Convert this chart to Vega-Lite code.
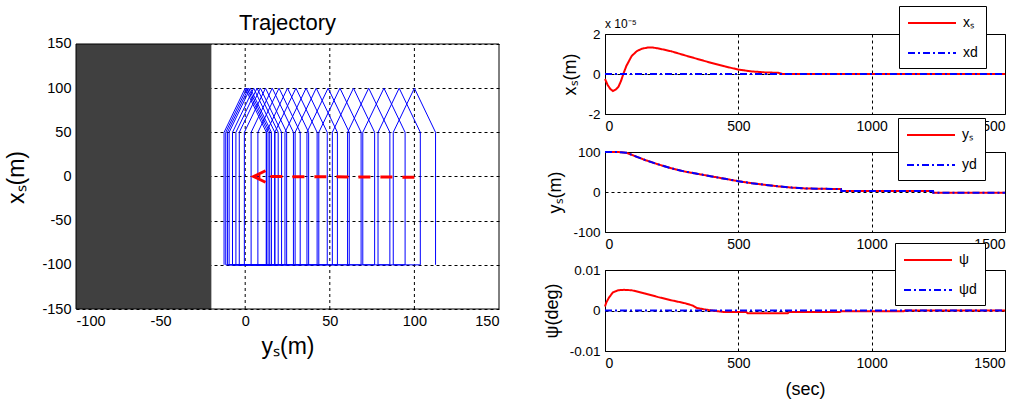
{
  "$schema": "https://vega.github.io/schema/vega-lite/v6.json",
  "background": "white",
  "padding": 5,
  "config": {
    "font": "Liberation Sans",
    "view": {"stroke": "black", "strokeWidth": 1},
    "axis": {
      "domain": false, "ticks": false, "grid": true,
      "gridColor": "black", "gridDash": [3, 3], "gridOpacity": 1, "gridWidth": 1,
      "labelColor": "black", "titleColor": "black", "titleFontWeight": "normal",
      "labelFont": "Liberation Sans", "titleFont": "Liberation Sans", "labelPadding": 5,
      "labelExpr": "toString(datum.value)"
    },
    "title": {"fontWeight": "normal", "color": "black", "font": "Liberation Sans"},
    "legend": {
      "orient": "none", "strokeColor": "black", "fillColor": "white", "padding": 8,
      "symbolType": "M-3,0H3", "symbolSize": 256, "symbolStrokeWidth": 2, "symbolOffset": 16,
      "labelFontSize": 14, "labelFont": "Liberation Sans", "labelColor": "black",
      "rowPadding": 14, "labelOffset": 22, "title": null
    }
  },
  "datasets": {
    "wall": [{"ys": -100, "ys2": -20, "xs": -150, "xs2": 150}],
    "vgrid": [{"ys": -50, "xs": -150, "xs2": 150}, {"ys": 0, "xs": -150, "xs2": 150}, {"ys": 50, "xs": -150, "xs2": 150}, {"ys": 100, "xs": -150, "xs2": 150}],
    "vframe": [{"ys": -100, "xs": -150, "xs2": 150}, {"ys": 150, "xs": -150, "xs2": 150}],
    "hframe": [{"xs": -150, "ys": -100, "ys2": 150}, {"xs": 150, "ys": -100, "ys2": 150}],
    "traj": [
      {"o":1,"ys":112.5,"xs":-100},{"o":2,"ys":112.5,"xs":50},{"o":3,"ys":100,"xs":100},{"o":4,"ys":87.5,"xs":50},{"o":5,"ys":87.5,"xs":-100},
      {"o":6,"ys":103.5,"xs":-100},{"o":7,"ys":103.5,"xs":50},{"o":8,"ys":91,"xs":100},{"o":9,"ys":78.5,"xs":50},{"o":10,"ys":78.5,"xs":-100},
      {"o":11,"ys":94.5,"xs":-100},{"o":12,"ys":94.5,"xs":50},{"o":13,"ys":82,"xs":100},{"o":14,"ys":69.5,"xs":50},{"o":15,"ys":69.5,"xs":-100},
      {"o":16,"ys":85.5,"xs":-100},{"o":17,"ys":85.5,"xs":50},{"o":18,"ys":73,"xs":100},{"o":19,"ys":60.5,"xs":50},{"o":20,"ys":60.5,"xs":-100},
      {"o":21,"ys":76.5,"xs":-100},{"o":22,"ys":76.5,"xs":50},{"o":23,"ys":64,"xs":100},{"o":24,"ys":51.5,"xs":50},{"o":25,"ys":51.5,"xs":-100},
      {"o":26,"ys":68.5,"xs":-100},{"o":27,"ys":68.5,"xs":50},{"o":28,"ys":56,"xs":100},{"o":29,"ys":43.5,"xs":50},{"o":30,"ys":43.5,"xs":-100},
      {"o":31,"ys":61.5,"xs":-100},{"o":32,"ys":61.5,"xs":50},{"o":33,"ys":49,"xs":100},{"o":34,"ys":36.5,"xs":50},{"o":35,"ys":36.5,"xs":-100},
      {"o":36,"ys":54.5,"xs":-100},{"o":37,"ys":54.5,"xs":50},{"o":38,"ys":42,"xs":100},{"o":39,"ys":29.5,"xs":50},{"o":40,"ys":29.5,"xs":-100},
      {"o":41,"ys":48.5,"xs":-100},{"o":42,"ys":48.5,"xs":50},{"o":43,"ys":36,"xs":100},{"o":44,"ys":23.5,"xs":50},{"o":45,"ys":23.5,"xs":-100},
      {"o":46,"ys":42.5,"xs":-100},{"o":47,"ys":42.5,"xs":50},{"o":48,"ys":30,"xs":100},{"o":49,"ys":17.5,"xs":50},{"o":50,"ys":17.5,"xs":-100},
      {"o":51,"ys":37.5,"xs":-100},{"o":52,"ys":37.5,"xs":50},{"o":53,"ys":25,"xs":100},{"o":54,"ys":12.5,"xs":50},{"o":55,"ys":12.5,"xs":-100},
      {"o":56,"ys":32.5,"xs":-100},{"o":57,"ys":32.5,"xs":50},{"o":58,"ys":20,"xs":100},{"o":59,"ys":7.5,"xs":50},{"o":60,"ys":7.5,"xs":-100},
      {"o":61,"ys":28.5,"xs":-100},{"o":62,"ys":28.5,"xs":50},{"o":63,"ys":16,"xs":100},{"o":64,"ys":3.5,"xs":50},{"o":65,"ys":3.5,"xs":-100},
      {"o":66,"ys":24.5,"xs":-100},{"o":67,"ys":24.5,"xs":50},{"o":68,"ys":12,"xs":100},{"o":69,"ys":-0.5,"xs":50},{"o":70,"ys":-0.5,"xs":-100},
      {"o":71,"ys":21.5,"xs":-100},{"o":72,"ys":21.5,"xs":50},{"o":73,"ys":9,"xs":100},{"o":74,"ys":-3.5,"xs":50},{"o":75,"ys":-3.5,"xs":-100},
      {"o":76,"ys":19.5,"xs":-100},{"o":77,"ys":19.5,"xs":50},{"o":78,"ys":7,"xs":100},{"o":79,"ys":-5.5,"xs":50},{"o":80,"ys":-5.5,"xs":-100},
      {"o":81,"ys":17.5,"xs":-100},{"o":82,"ys":17.5,"xs":50},{"o":83,"ys":5,"xs":100},{"o":84,"ys":-7.5,"xs":50},{"o":85,"ys":-7.5,"xs":-100},
      {"o":86,"ys":15.5,"xs":-100},{"o":87,"ys":15.5,"xs":50},{"o":88,"ys":3,"xs":100},{"o":89,"ys":-9.5,"xs":50},{"o":90,"ys":-9.5,"xs":-100},
      {"o":91,"ys":14.5,"xs":-100},{"o":92,"ys":14.5,"xs":50},{"o":93,"ys":2,"xs":100},{"o":94,"ys":-10.5,"xs":50},{"o":95,"ys":-10.5,"xs":-100},
      {"o":96,"ys":13.5,"xs":-100},{"o":97,"ys":13.5,"xs":50},{"o":98,"ys":1,"xs":100},{"o":99,"ys":-11.5,"xs":50},{"o":100,"ys":-11.5,"xs":-100},
      {"o":101,"ys":12.5,"xs":-100},{"o":102,"ys":12.5,"xs":50},{"o":103,"ys":0,"xs":100},{"o":104,"ys":-12.5,"xs":50},{"o":105,"ys":-12.5,"xs":-100}
    ],
    "shaft": [{"o": 1, "ys": 100, "xs": -0.8}, {"o": 2, "ys": 8, "xs": 0}],
    "head": [{"o": 1, "ys": 12, "xs": 6.5}, {"o": 2, "ys": 5, "xs": 0}, {"o": 3, "ys": 12, "xs": -6.5}],
    "p1": [
      {"t":0,"v":-0.25,"s":"xₛ"},{"t":10,"v":-0.55,"s":"xₛ"},{"t":20,"v":-0.75,"s":"xₛ"},{"t":30,"v":-0.85,"s":"xₛ"},
      {"t":40,"v":-0.78,"s":"xₛ"},{"t":50,"v":-0.65,"s":"xₛ"},{"t":60,"v":-0.35,"s":"xₛ"},{"t":70,"v":0.05,"s":"xₛ"},
      {"t":80,"v":0.4,"s":"xₛ"},{"t":100,"v":0.9,"s":"xₛ"},{"t":120,"v":1.15,"s":"xₛ"},{"t":140,"v":1.27,"s":"xₛ"},
      {"t":160,"v":1.32,"s":"xₛ"},{"t":180,"v":1.32,"s":"xₛ"},{"t":200,"v":1.28,"s":"xₛ"},{"t":250,"v":1.13,"s":"xₛ"},
      {"t":300,"v":0.93,"s":"xₛ"},{"t":350,"v":0.74,"s":"xₛ"},{"t":400,"v":0.55,"s":"xₛ"},{"t":450,"v":0.38,"s":"xₛ"},
      {"t":500,"v":0.22,"s":"xₛ"},{"t":550,"v":0.13,"s":"xₛ"},{"t":600,"v":0.08,"s":"xₛ"},{"t":650,"v":0.06,"s":"xₛ"},
      {"t":665,"v":0.0,"s":"xₛ"},{"t":1500,"v":0.0,"s":"xₛ"},
      {"t":0,"v":0,"s":"xd"},{"t":1500,"v":0,"s":"xd"}
    ],
    "p2": [
      {"t":0,"v":100,"s":"yₛ"},{"t":50,"v":100,"s":"yₛ"},{"t":80,"v":98,"s":"yₛ"},{"t":100,"v":93,"s":"yₛ"},
      {"t":150,"v":80,"s":"yₛ"},{"t":200,"v":69,"s":"yₛ"},{"t":250,"v":59,"s":"yₛ"},{"t":300,"v":51,"s":"yₛ"},
      {"t":350,"v":45,"s":"yₛ"},{"t":400,"v":39,"s":"yₛ"},{"t":450,"v":33,"s":"yₛ"},{"t":500,"v":27,"s":"yₛ"},
      {"t":550,"v":22,"s":"yₛ"},{"t":600,"v":18,"s":"yₛ"},{"t":650,"v":14,"s":"yₛ"},{"t":700,"v":11,"s":"yₛ"},
      {"t":750,"v":9,"s":"yₛ"},{"t":800,"v":8,"s":"yₛ"},{"t":885,"v":7.5,"s":"yₛ"},{"t":886,"v":2.5,"s":"yₛ"},
      {"t":1230,"v":2.5,"s":"yₛ"},{"t":1231,"v":-1.7,"s":"yₛ"},{"t":1500,"v":-1.7,"s":"yₛ"},
      {"t":0,"v":100,"s":"yd"},{"t":50,"v":100,"s":"yd"},{"t":80,"v":98,"s":"yd"},{"t":100,"v":93,"s":"yd"},
      {"t":150,"v":80,"s":"yd"},{"t":200,"v":69,"s":"yd"},{"t":250,"v":59,"s":"yd"},{"t":300,"v":51,"s":"yd"},
      {"t":350,"v":45,"s":"yd"},{"t":400,"v":39,"s":"yd"},{"t":450,"v":33,"s":"yd"},{"t":500,"v":27,"s":"yd"},
      {"t":550,"v":22,"s":"yd"},{"t":600,"v":18,"s":"yd"},{"t":650,"v":14,"s":"yd"},{"t":700,"v":11,"s":"yd"},
      {"t":750,"v":9,"s":"yd"},{"t":800,"v":8,"s":"yd"},{"t":885,"v":7.5,"s":"yd"},{"t":886,"v":2.5,"s":"yd"},
      {"t":1230,"v":2.5,"s":"yd"},{"t":1231,"v":-1.7,"s":"yd"},{"t":1500,"v":-1.7,"s":"yd"}
    ],
    "p3": [
      {"t":0,"v":0.001,"s":"ψ"},{"t":5,"v":0.002,"s":"ψ"},{"t":15,"v":0.0032,"s":"ψ"},{"t":30,"v":0.0045,"s":"ψ"},
      {"t":50,"v":0.005,"s":"ψ"},{"t":70,"v":0.0051,"s":"ψ"},{"t":100,"v":0.005,"s":"ψ"},{"t":150,"v":0.0042,"s":"ψ"},
      {"t":200,"v":0.0033,"s":"ψ"},{"t":250,"v":0.0025,"s":"ψ"},{"t":300,"v":0.0018,"s":"ψ"},{"t":330,"v":0.0012,"s":"ψ"},
      {"t":345,"v":0.0006,"s":"ψ"},{"t":380,"v":0.0002,"s":"ψ"},{"t":400,"v":0.0,"s":"ψ"},{"t":450,"v":-0.0004,"s":"ψ"},
      {"t":530,"v":-0.0004,"s":"ψ"},{"t":535,"v":-0.0007,"s":"ψ"},{"t":685,"v":-0.0007,"s":"ψ"},{"t":690,"v":-0.0004,"s":"ψ"},
      {"t":880,"v":-0.0004,"s":"ψ"},{"t":885,"v":-0.0002,"s":"ψ"},{"t":1120,"v":-0.0002,"s":"ψ"},{"t":1125,"v":0,"s":"ψ"},
      {"t":1500,"v":0,"s":"ψ"},
      {"t":0,"v":0,"s":"ψd"},{"t":1500,"v":0,"s":"ψd"}
    ]
  },
  "spacing": 42,
  "hconcat": [
    {
      "width": 423, "height": 275,
      "view": {"stroke": null},
      "title": {"text": "Trajectory", "fontSize": 22, "baseline": "alphabetic", "offset": -18},
      "encoding": {
        "x": {"field": "ys", "type": "quantitative",
          "scale": {"domain": [-100, 150], "nice": false, "zero": false},
          "axis": {"values": [-100, -50, 0, 50, 100, 150], "grid": false, "title": "yₛ(m)", "labelFontSize": 14.5, "titleFontSize": 23, "titlePadding": 8}},
        "y": {"field": "xs", "type": "quantitative",
          "scale": {"domain": [-150, 161.32], "nice": false, "zero": false},
          "axis": {"values": [-150, -100, -50, 0, 50, 100, 150], "title": "xₛ(m)", "labelFontSize": 14.5, "titleFontSize": 23, "titlePadding": 13, "titleY": 143}}
      },
      "layer": [
        {"data": {"name": "vgrid"}, "mark": {"type": "rule", "color": "black", "strokeWidth": 1, "strokeDash": [3, 3]},
          "encoding": {"y2": {"field": "xs2"}}},
        {"data": {"name": "wall"}, "mark": {"type": "rect", "color": "#404040"},
          "encoding": {"x2": {"field": "ys2"}, "y2": {"field": "xs2"}}},
        {"data": {"name": "traj"}, "mark": {"type": "line", "color": "#0000ff", "strokeWidth": 1},
          "encoding": {"order": {"field": "o", "type": "quantitative"}}},
        {"data": {"name": "shaft"}, "mark": {"type": "line", "color": "#ff0000", "strokeWidth": 3, "strokeDash": [12, 10]},
          "encoding": {"order": {"field": "o", "type": "quantitative"}}},
        {"data": {"name": "head"}, "mark": {"type": "line", "color": "#ff0000", "strokeWidth": 3},
          "encoding": {"order": {"field": "o", "type": "quantitative"}}},
        {"data": {"name": "vframe"}, "mark": {"type": "rule", "color": "black", "strokeWidth": 1},
          "encoding": {"y2": {"field": "xs2"}}},
        {"data": {"name": "hframe"}, "mark": {"type": "rule", "color": "black", "strokeWidth": 1},
          "encoding": {"x2": {"field": "ys2"}}}
      ]
    },
    {
      "bounds": "flush",
      "spacing": 38,
      "resolve": {"scale": {"color": "independent", "strokeDash": "independent"}, "legend": {"color": "independent", "strokeDash": "independent"}},
      "vconcat": [
        {
          "width": 400, "height": 80,
          "title": {"text": "x 10⁻⁵", "anchor": "start", "fontSize": 12, "baseline": "alphabetic", "offset": -34, "frame": "group"},
          "data": {"name": "p1"},
          "mark": {"type": "line", "strokeWidth": 2},
          "encoding": {
            "x": {"field": "t", "type": "quantitative", "scale": {"domain": [0, 1500], "nice": false},
              "axis": {"values": [0, 500, 1000, 1500], "title": null, "labelFontSize": 14}},
            "y": {"field": "v", "type": "quantitative", "scale": {"domain": [-2, 2], "nice": false},
              "axis": {"values": [-2, 0, 2], "title": "xₛ(m)", "labelFontSize": 13.5, "titleFontSize": 18, "titlePadding": 8}},
            "color": {"field": "s", "type": "nominal",
              "scale": {"domain": ["xₛ", "xd"], "range": ["#ff0000", "#0000ff"]},
              "legend": {"legendX": 294, "legendY": -28}},
            "strokeDash": {"field": "s", "type": "nominal",
              "scale": {"domain": ["xₛ", "xd"], "range": [[1, 0], [7, 3, 2, 3]]},
              "legend": {"legendX": 294, "legendY": -28}}
          }
        },
        {
          "width": 400, "height": 80,
          "data": {"name": "p2"},
          "mark": {"type": "line", "strokeWidth": 2},
          "encoding": {
            "x": {"field": "t", "type": "quantitative", "scale": {"domain": [0, 1500], "nice": false},
              "axis": {"values": [0, 500, 1000, 1500], "title": null, "labelFontSize": 14}},
            "y": {"field": "v", "type": "quantitative", "scale": {"domain": [-100, 100], "nice": false},
              "axis": {"values": [-100, 0, 100], "title": "yₛ(m)", "labelFontSize": 13.5, "titleFontSize": 18, "titlePadding": 8}},
            "color": {"field": "s", "type": "nominal",
              "scale": {"domain": ["yₛ", "yd"], "range": ["#ff0000", "#0000ff"]},
              "legend": {"legendX": 293, "legendY": -34}},
            "strokeDash": {"field": "s", "type": "nominal",
              "scale": {"domain": ["yₛ", "yd"], "range": [[1, 0], [7, 3, 2, 3]]},
              "legend": {"legendX": 293, "legendY": -34}}
          }
        },
        {
          "width": 400, "height": 81,
          "data": {"name": "p3"},
          "mark": {"type": "line", "strokeWidth": 2},
          "encoding": {
            "x": {"field": "t", "type": "quantitative", "scale": {"domain": [0, 1500], "nice": false},
              "axis": {"values": [0, 500, 1000, 1500], "title": "(sec)", "labelFontSize": 14, "titleFontSize": 18, "titlePadding": 10}},
            "y": {"field": "v", "type": "quantitative", "scale": {"domain": [-0.01, 0.01], "nice": false},
              "axis": {"values": [-0.01, 0, 0.01], "title": "ψ(deg)", "labelFontSize": 13.5, "titleFontSize": 18, "titlePadding": 8}},
            "color": {"field": "s", "type": "nominal",
              "scale": {"domain": ["ψ", "ψd"], "range": ["#ff0000", "#0000ff"]},
              "legend": {"legendX": 290, "legendY": -27}},
            "strokeDash": {"field": "s", "type": "nominal",
              "scale": {"domain": ["ψ", "ψd"], "range": [[1, 0], [7, 3, 2, 3]]},
              "legend": {"legendX": 290, "legendY": -27}}
          }
        }
      ]
    }
  ]
}
